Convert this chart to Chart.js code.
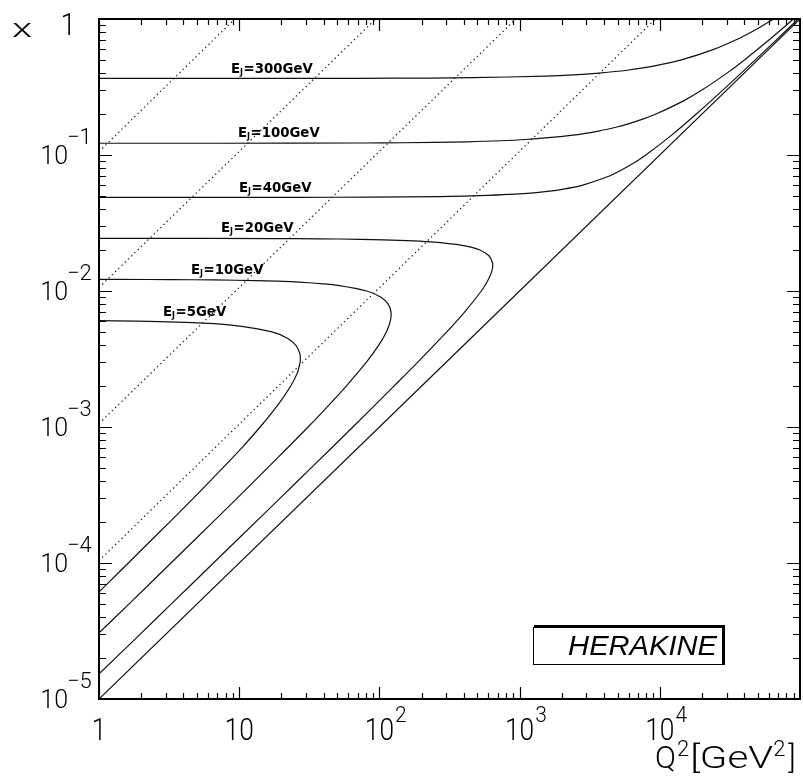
<!DOCTYPE html>
<html>
<head>
<meta charset="utf-8">
<script src="https://cdn.jsdelivr.net/npm/chart.js@4/dist/chart.umd.min.js"></script>
<style>
  html, body { margin: 0; padding: 0; background: #fff; }
</style>
</head>
<body>
<canvas id="kine" width="803" height="777"></canvas>
<script>
// Q2 [GeV^2] and x along lines of constant jet energy E_J
var q2_300 = [1, 16, 70.6, 234, 453, 1540, 2622, 3698, 5836, 9013, 14242, 24536, 34694, 44767, 54786, 64770];
var x_300  = [0.3659, 0.366, 0.3665, 0.368, 0.37, 0.38, 0.39, 0.40, 0.42, 0.45, 0.5, 0.6, 0.7, 0.8, 0.9, 1.0];

var q2_100 = [1, 6.9, 77, 147, 424, 1102, 2404, 3650, 4854, 6025, 7734, 9399, 14760, 19953, 30115, 40137, 60016, 89681];
var x_100  = [0.12196, 0.122, 0.1225, 0.123, 0.125, 0.13, 0.14, 0.15, 0.16, 0.17, 0.185, 0.2, 0.25, 0.3, 0.4, 0.5, 0.7, 1.0];

var q2_40 = [1, 7.7, 27, 85, 271, 447, 1069, 1828, 2457, 2829, 4374, 6257, 7948, 12151, 18211, 28153, 38039, 67615, 97154];
var x_40  = [0.04878, 0.0488, 0.04885, 0.049, 0.0495, 0.05, 0.052, 0.055, 0.058, 0.06, 0.07, 0.085, 0.1, 0.14, 0.2, 0.3, 0.4, 0.7, 1.0];

var q2_20 = [0.44, 2.01, 17.6, 36.6, 73.2, 157, 232, 355, 450, 521, 609, 642, 642, 634, 595, 533, 405, 302, 188, 127, 64.7, 32.6, 19.6, 9.82, 6.55, 3.28, 1.97, 0.98];
var x_20  = [0.024388, 0.02438, 0.0243, 0.0242, 0.024, 0.0235, 0.023, 0.022, 0.021, 0.020, 0.018, 0.016, 0.015, 0.014, 0.012, 0.010, 0.007, 0.005, 0.003, 0.002, 0.001, 0.0005, 0.0003, 0.00015, 0.0001, 0.00005, 0.00003, 0.000015];

var q2_10 = [0.74, 2.21, 4.63, 9.37, 18.5, 31.4, 39.4, 50.6, 81.3, 102.6, 115.5, 121, 119.6, 112.1, 99, 80.8, 58, 45, 31, 19, 9.68, 4.88, 3.26, 1.64, 0.98];
var x_10  = [0.01218, 0.01215, 0.0121, 0.012, 0.0118, 0.0115, 0.0113, 0.011, 0.010, 0.009, 0.008, 0.007, 0.006, 0.005, 0.004, 0.003, 0.002, 0.0015, 0.001, 0.0006, 0.0003, 0.00015, 0.0001, 0.00005, 0.00003];

var q2_5 = [0.93, 1.88, 5.52, 10.4, 17.1, 22.05, 25.3, 27.0, 27.3, 27.2, 26.0, 23.3, 19.3, 14.1, 10.4, 7.63, 4.72, 3.19, 2.09, 1.62, 1.14, 0.98];
var x_5  = [0.00605, 0.006, 0.0058, 0.0055, 0.005, 0.0045, 0.004, 0.0035, 0.0032, 0.003, 0.0025, 0.002, 0.0015, 0.001, 0.0007, 0.0005, 0.0003, 0.0002, 0.00013, 0.0001, 0.00007, 0.00006];

// kinematic limit
var q2_lim = [1, 100000];
var x_lim  = [0.00001, 1];

// dotted lines of constant y
var q2_dot1 = [1, 9.3],    x_dot1 = [0.106, 1];
var q2_dot2 = [1, 94],     x_dot2 = [0.0106, 1];
var q2_dot3 = [1, 940],    x_dot3 = [0.00106, 1];
var q2_dot4 = [1, 9300],   x_dot4 = [0.000104, 1];

// curve annotations: E_J value, anchor (left edge, baseline) in Q2 / x
var ejNames = ['300', '100', '40', '20', '10', '5'];
var ejNameQ2 = [8.74, 9.8, 9.97, 7.42, 4.53, 2.86];
var ejNameX  = [0.401, 0.136, 0.0534, 0.0272, 0.01334, 0.00655];

// axis tick labels
var xTickVals = [1, 10, 100, 1000, 10000];
var xTickBase = ['1', '10', '10', '10', '10'];
var xTickExp  = ['', '', '2', '3', '4'];
var yTickVals = [1e-5, 1e-4, 1e-3, 1e-2, 1e-1, 1];
var yTickBase = ['10', '10', '10', '10', '10', '1'];
var yTickExp  = ['\u22125', '\u22124', '\u22123', '\u22122', '\u22121', ''];

function pts(q2, x) {
    var out = [];
    for (var i = 0; i < q2.length; i++) {
        out.push({ x: q2[i], y: x[i] });
    }
    return out;
}

function solid(q2, x) {
    return { data: pts(q2, x), showLine: true, borderColor: '#111', borderWidth: 1.2, pointRadius: 0, tension: 0.25 };
}

function dotted(q2, x) {
    return { data: pts(q2, x), showLine: true, borderColor: '#222', borderWidth: 1.3, borderDash: [1.3, 3.2], pointRadius: 0, tension: 0 };
}

// text squeezed or stretched horizontally
function drawText(ctx, text, x, y, font, align, sx) {
    ctx.save();
    ctx.font = font;
    ctx.textBaseline = 'alphabetic';
    var w = ctx.measureText(text).width * sx;
    var left = align == 'right' ? x - w : (align == 'center' ? x - w / 2 : x);
    ctx.translate(left, y);
    ctx.scale(sx, 1);
    ctx.textAlign = 'left';
    ctx.fillText(text, 0, 0);
    ctx.restore();
    return w;
}

var decor = {
    id: 'decor',
    afterDatasetsDraw: function(chart) {
        var ctx = chart.ctx;
        var a = chart.chartArea;
        var sx = chart.scales.x;
        var sy = chart.scales.y;
        ctx.save();
        ctx.fillStyle = '#000';
        ctx.strokeStyle = '#000';

        // frame
        ctx.lineWidth = 2;
        ctx.strokeRect(a.left, a.top, a.right - a.left, a.bottom - a.top);

        // ticks, pointing inwards on all four sides
        ctx.lineWidth = 1.2;
        ctx.beginPath();
        for (var d = 1; d < 1e5; d *= 10) {
            for (var m = 1; m <= 9; m++) {
                var px = Math.round(sx.getPixelForValue(d * m)) + 0.5;
                var len = m == 1 ? 12 : 6;
                ctx.moveTo(px, a.bottom); ctx.lineTo(px, a.bottom - len);
                ctx.moveTo(px, a.top); ctx.lineTo(px, a.top + len);
            }
        }
        for (var e = 1e-5; e < 0.99; e *= 10) {
            for (var k = 1; k <= 9; k++) {
                var py = Math.round(sy.getPixelForValue(e * k)) + 0.5;
                var ln = k == 1 ? 13 : 7;
                ctx.moveTo(a.left, py); ctx.lineTo(a.left + ln, py);
                ctx.moveTo(a.right, py); ctx.lineTo(a.right - ln, py);
            }
        }
        ctx.stroke();

        // x axis numbers
        for (var i = 0; i < xTickVals.length; i++) {
            var tx = sx.getPixelForValue(xTickVals[i]);
            var w = drawText(ctx, xTickBase[i], tx, a.bottom + 41, '300 31px Roboto', 'center', 0.85);
            if (xTickExp[i]) {
                drawText(ctx, xTickExp[i], tx + w / 2 + 1, a.bottom + 23, '300 22px Roboto', 'left', 0.95);
            }
        }

        // y axis numbers
        for (var j = 0; j < yTickVals.length; j++) {
            var ty = sy.getPixelForValue(yTickVals[j]);
            if (yTickExp[j]) {
                drawText(ctx, yTickBase[j], 68, ty + 9, '300 25px Roboto', 'right', 1);
                drawText(ctx, yTickExp[j], 67, ty - 11, '300 22px Roboto', 'left', 1);
            } else {
                drawText(ctx, yTickBase[j], 76, ty + 16, '300 31px Roboto', 'right', 0.9);
            }
        }

        // axis titles
        ctx.save();
        ctx.font = '300 26px Roboto';
        ctx.translate(12, 37);
        ctx.scale(1.6, 1);
        ctx.fillText('x', 0, 0);
        ctx.restore();

        var qx = 655;
        qx += drawText(ctx, 'Q', qx, 768, '300 31px Roboto', 'left', 1.0);
        qx += drawText(ctx, '2', qx + 1, 756, '300 22px Roboto', 'left', 1) + 2;
        qx += drawText(ctx, '[GeV', qx, 768, '300 31px Roboto', 'left', 1.3);
        qx += drawText(ctx, '2', qx, 756, '300 22px Roboto', 'left', 1) + 3;
        drawText(ctx, ']', qx, 768, '300 31px Roboto', 'left', 1.0);

        // E_J labels on the curves
        for (var n = 0; n < ejNames.length; n++) {
            var lx = sx.getPixelForValue(ejNameQ2[n]);
            var ly = sy.getPixelForValue(ejNameX[n]);
            lx += drawText(ctx, 'E', lx, ly, 'bold 14px "DejaVu Sans"', 'left', 0.95);
            lx += drawText(ctx, 'J', lx, ly + 2, 'bold 8px "DejaVu Sans"', 'left', 1) + 0.5;
            drawText(ctx, '=' + ejNames[n] + 'GeV', lx, ly, 'bold 14px "DejaVu Sans"', 'left', 0.95);
        }

        // program tag box
        var bx0 = sx.getPixelForValue(1246), bx1 = sx.getPixelForValue(28700);
        var by0 = sy.getPixelForValue(3.39e-5), by1 = sy.getPixelForValue(1.81e-5);
        ctx.fillStyle = '#fff';
        ctx.fillRect(bx0, by0, bx1 - bx0, by1 - by0);
        ctx.fillStyle = '#000';
        ctx.lineWidth = 1;
        ctx.strokeRect(Math.round(bx0) + 0.5, Math.round(by0) + 0.5, Math.round(bx1 - bx0), Math.round(by1 - by0));
        ctx.fillRect(Math.round(bx0) + 1, Math.round(by0) - 2, Math.round(bx1 - bx0), 3);
        ctx.fillRect(Math.round(bx1) - 2, Math.round(by0) - 2, 3, Math.round(by1 - by0) + 2);
        drawText(ctx, 'HERAKINE', bx1 - 7, by1 - 9, 'italic 28px "Liberation Sans"', 'right', 1.04);

        ctx.restore();
    }
};

new Chart(document.getElementById('kine'), {
    type: 'scatter',
    data: {
        datasets: [
            solid(q2_300, x_300),
            solid(q2_100, x_100),
            solid(q2_40, x_40),
            solid(q2_20, x_20),
            solid(q2_10, x_10),
            solid(q2_5, x_5),
            solid(q2_lim, x_lim),
            dotted(q2_dot1, x_dot1),
            dotted(q2_dot2, x_dot2),
            dotted(q2_dot3, x_dot3),
            dotted(q2_dot4, x_dot4)
        ]
    },
    options: {
        responsive: false,
        animation: false,
        layout: { padding: { left: 99, right: 3, top: 19, bottom: 78 } },
        plugins: { legend: { display: false }, tooltip: { enabled: false } },
        scales: {
            x: { type: 'logarithmic', min: 1, max: 100000, display: false },
            y: { type: 'logarithmic', min: 0.00001, max: 1, display: false }
        }
    },
    plugins: [decor]
});
</script>
</body>
</html>
